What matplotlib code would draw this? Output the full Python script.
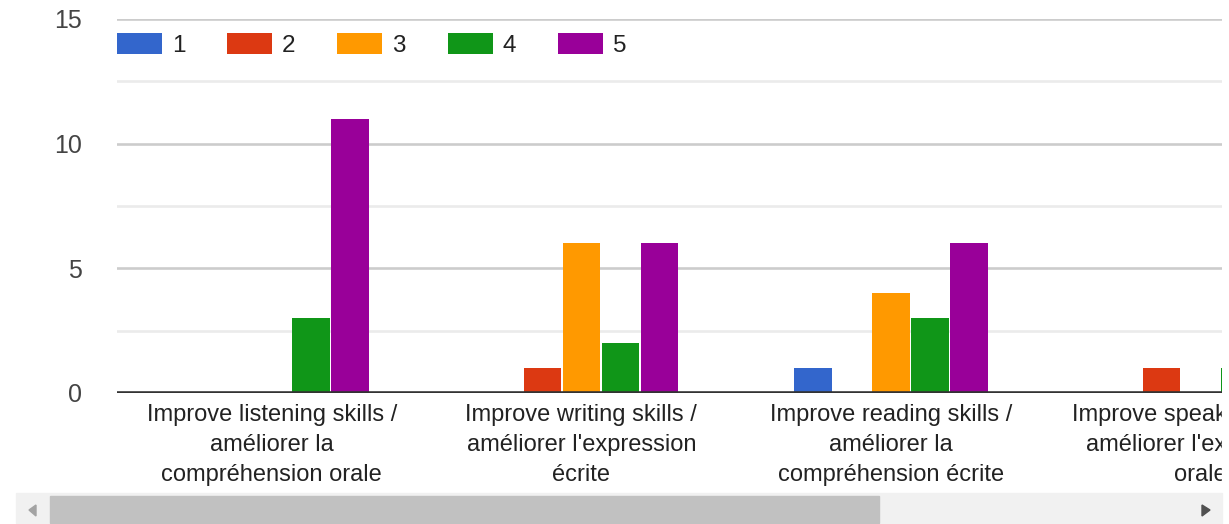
import numpy as np
import matplotlib
matplotlib.use("Agg")
import matplotlib.pyplot as plt
from matplotlib.patches import Rectangle, Polygon

plt.rcParams['font.family'] = ['Liberation Sans', 'DejaVu Sans']

# data (last group is cut off by the scroll window)
categories = [
    "Improve listening skills /\naméliorer la\ncompréhension orale",
    "Improve writing skills /\naméliorer l'expression\nécrite",
    "Improve reading skills /\naméliorer la\ncompréhension écrite",
    "Improve speaking skills /\naméliorer l'expression\norale",
]
series_names = ["1", "2", "3", "4", "5"]
rating_1 = [0, 0, 1, 0]
rating_2 = [0, 1, 0, 1]
rating_3 = [0, 6, 4, 0]
rating_4 = [3, 2, 3, 1]
rating_5 = [11, 6, 6, 4]
colors = ["#3366cc", "#dc3912", "#ff9900", "#109618", "#990099"]

W, H = 1229, 524
fig = plt.figure(figsize=(W / 100, H / 100), dpi=100)


def px(x, y):
    # pixel coords from the top-left corner -> figure fraction
    return x / W, 1 - y / H


left, right, top, base = 117, 1222, 19, 393
ax = fig.add_axes([left / W, 1 - base / H, (right - left) / W, (base - top) / H])

x = np.arange(len(categories))
pitch = 0.126
width = 0.121
for i, (name, vals) in enumerate(zip(series_names,
                                     [rating_1, rating_2, rating_3, rating_4, rating_5])):
    ax.bar(x + (i - 2) * pitch, vals, width, color=colors[i], label=name, zorder=3)

ax.set_xlim(-0.5, 3.069)
ax.set_ylim(0, 15)

for v in [5, 10, 15]:
    ax.axhline(v, color="#cccccc", lw=1.9, zorder=1)
for v in [2.5, 7.5, 12.5]:
    ax.axhline(v, color="#ebebeb", lw=1.9, zorder=1)
ax.axhline(0, color="#333333", lw=2.6, zorder=4)

for s in ax.spines.values():
    s.set_visible(False)

ax.set_yticks([0, 5, 10, 15])
ax.set_yticklabels(["0", "5", "10", "15"])
ax.tick_params(axis="y", length=0, pad=25, labelsize=18, labelcolor="#444444")
ax.set_xticks(x)
ax.set_xticklabels(categories, linespacing=1.46)
ax.tick_params(axis="x", length=0, pad=8, labelsize=17, labelcolor="#222222")

ax.legend(loc="center left", bbox_to_anchor=(0, (base - 45) / (base - top)),
          ncol=5, frameon=False, fontsize=17.5, borderaxespad=0, borderpad=0,
          handlelength=1.85, handleheight=0.92, handletextpad=0.4,
          columnspacing=1.73, labelcolor="#222222")

# white cover where the scroll window cuts off the labels
x0, y0 = px(right, H)
fig.patches.append(Rectangle((x0, 0), 1 - x0, 1 - 395 / H, transform=fig.transFigure,
                             color="white", zorder=10))

# scrollbar
bx0, by1 = px(16, 493)
bx1, by0 = px(right, 523)
fig.patches.append(Rectangle((bx0, by0), bx1 - bx0, by1 - by0, transform=fig.transFigure,
                             color="#f1f1f1", zorder=11))
tx0, ty1 = px(50, 496)
tx1, ty0 = px(879, 523)
fig.patches.append(Rectangle((tx0, ty0), tx1 - tx0, ty1 - ty0, transform=fig.transFigure,
                             color="#c1c1c1", zorder=12))
fig.patches.append(Polygon([px(29, 510), px(36, 505), px(36, 516)], closed=True,
                           transform=fig.transFigure, color="#a3a3a3", zorder=12))
fig.patches.append(Polygon([px(1210, 510), px(1202, 505), px(1202, 516)], closed=True,
                           transform=fig.transFigure, color="#505050", zorder=12))

fig.savefig("out.png", dpi=100)
